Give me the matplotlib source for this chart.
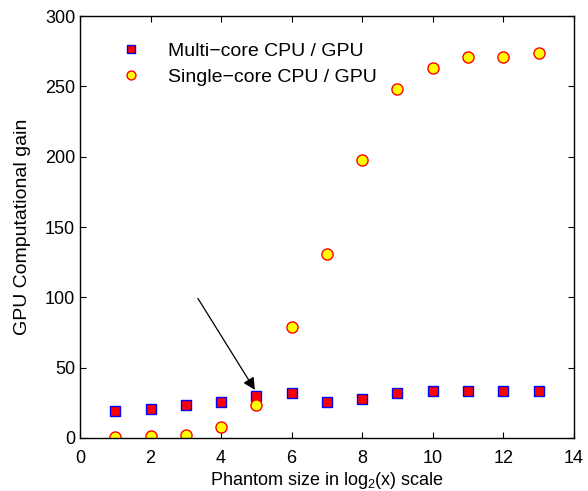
import numpy as np
import matplotlib.pyplot as plt

plt.rcParams['font.family'] = ['Liberation Sans', 'DejaVu Sans']
plt.rcParams['mathtext.fontset'] = 'custom'
plt.rcParams['mathtext.rm'] = 'Liberation Sans'

# phantom size (log2 scale)
sizes = [1, 2, 3, 4, 5, 6, 7, 8, 9, 10, 11, 12, 13]
# gains
multi_core = [19.2, 20.4, 23.5, 25.6, 30.1, 32.0, 25.6, 27.7, 32.2, 33.4, 33.4, 33.4, 33.4]
single_core = [0.5, 1.4, 2.4, 8.0, 23.5, 79.0, 131.0, 198.0, 248.0, 263.5, 271.0, 271.0, 273.5]

fig = plt.figure(figsize=(5.88, 4.91), dpi=100)
ax = fig.add_axes([0.136, 0.108, 0.840, 0.859])

ax.plot(sizes, multi_core, 's', ms=7.5, mfc='red', mec='blue', mew=1.0,
        label='Multi\u2212core CPU / GPU')
ax.plot(sizes, single_core, 'o', ms=8, mfc='yellow', mec='red', mew=1.0,
        label='Single\u2212core CPU / GPU')

# arrow pointing to the crossover point
ax.annotate('', xy=(5.0, 32.5), xytext=(3.3, 101),
            arrowprops=dict(arrowstyle='-|>', color='black', lw=0.9,
                            mutation_scale=18))

ax.set_xlim(0, 14)
ax.set_ylim(0, 300)
ax.set_xticks(np.arange(0, 15, 2))
ax.set_yticks(np.arange(0, 301, 50))
ax.tick_params(direction='in', top=True, right=True, labelsize=13, length=4.5)
ax.tick_params(axis='x', pad=9)
for s in ax.spines.values():
    s.set_linewidth(1.0)

ax.set_xlabel('Phantom size in log$_2$(x) scale', fontsize=13, labelpad=1.5)
ax.set_ylabel('GPU Computational gain', fontsize=14, labelpad=10)

ax.legend(loc='upper left', frameon=False, fontsize=14, handlelength=1.0,
          handletextpad=1.42, borderpad=0, borderaxespad=0, labelspacing=0.41,
          markerscale=0.8, bbox_to_anchor=(0.083, 0.938))

fig.savefig('out.png', dpi=100)
